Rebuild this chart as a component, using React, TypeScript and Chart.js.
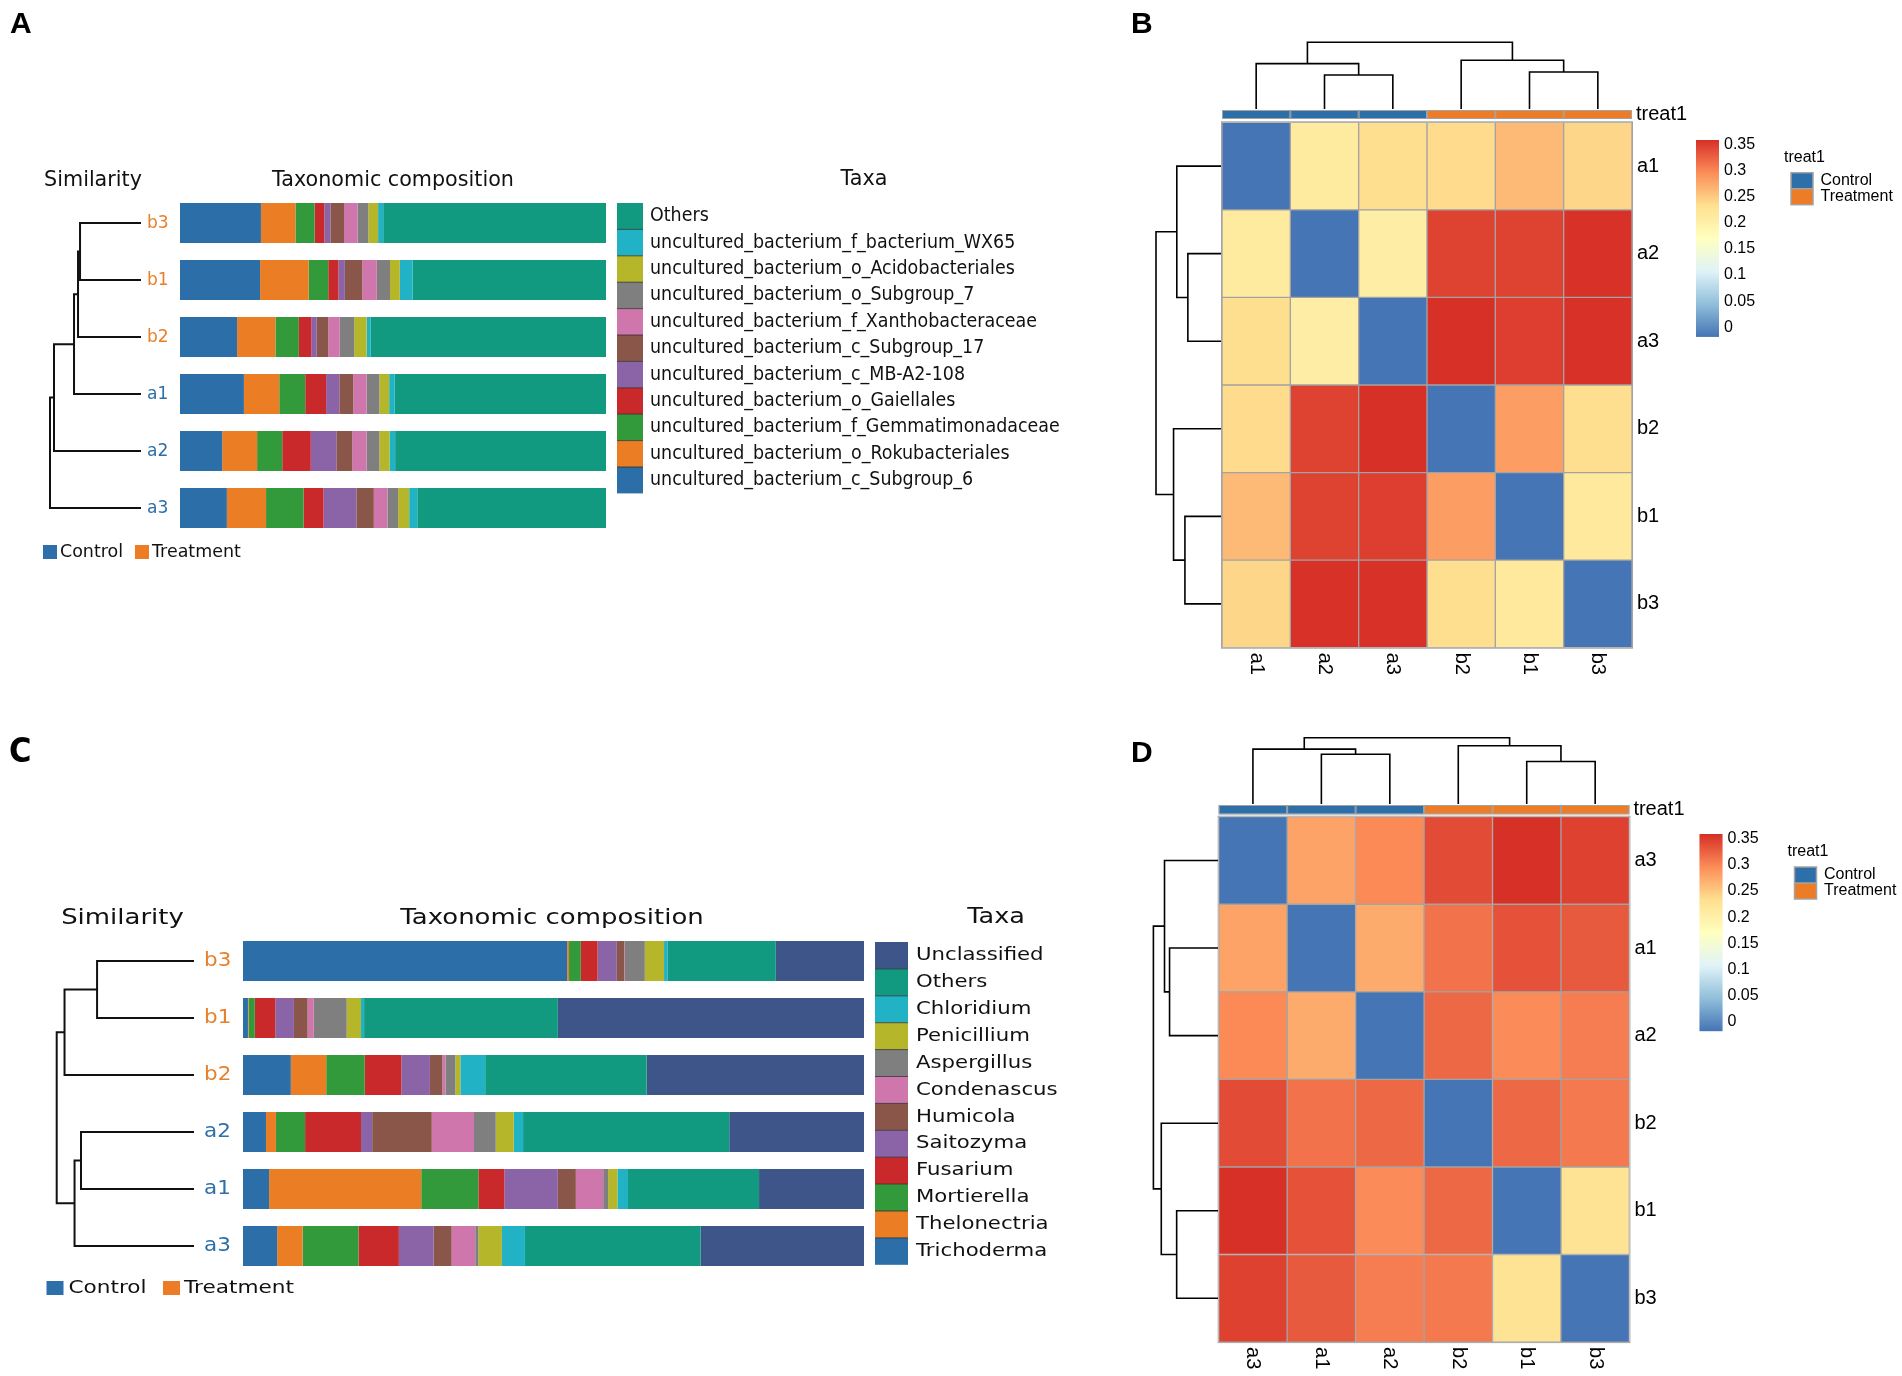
import React, { useEffect, useRef } from 'react';
import Chart from 'chart.js/auto';

const W = 1902;
const H = 1376;

// ---------------- Panel A (bacteria) data ----------------
const samplesA = ['b3', 'b1', 'b2', 'a1', 'a2', 'a3'];
const taxaA = [
  'uncultured_bacterium_c_Subgroup_6',
  'uncultured_bacterium_o_Rokubacteriales',
  'uncultured_bacterium_f_Gemmatimonadaceae',
  'uncultured_bacterium_o_Gaiellales',
  'uncultured_bacterium_c_MB-A2-108',
  'uncultured_bacterium_c_Subgroup_17',
  'uncultured_bacterium_f_Xanthobacteraceae',
  'uncultured_bacterium_o_Subgroup_7',
  'uncultured_bacterium_o_Acidobacteriales',
  'uncultured_bacterium_f_bacterium_WX65',
  'Others',
];
const subgroup6A = [19.0, 18.8, 13.4, 15.0, 9.9, 11.0];
const rokubacterialesA = [8.1, 11.4, 9.0, 8.3, 8.2, 9.2];
const gemmatimonadaceaeA = [4.5, 4.6, 5.5, 6.1, 5.9, 8.8];
const gaiellalesA = [2.3, 2.4, 2.9, 4.9, 6.7, 4.7];
const mbA2108A = [1.4, 1.5, 1.3, 3.1, 6.0, 7.7];
const subgroup17A = [3.2, 4.1, 2.7, 3.3, 3.7, 4.1];
const xanthobacteraceaeA = [3.2, 3.4, 2.7, 3.1, 3.4, 3.2];
const subgroup7A = [2.5, 3.1, 3.4, 3.0, 3.0, 2.5];
const acidobacterialesA = [2.3, 2.3, 2.9, 2.3, 2.4, 2.6];
const wx65A = [1.2, 3.0, 0.9, 1.3, 1.3, 1.9];
const othersA = [52.3, 45.4, 55.3, 49.6, 49.5, 44.3];
const seriesA = [subgroup6A, rokubacterialesA, gemmatimonadaceaeA, gaiellalesA, mbA2108A, subgroup17A,
  xanthobacteraceaeA, subgroup7A, acidobacterialesA, wx65A, othersA];
// hierarchical merges: [childA, childB, height]; >=0 leaf index, <0 cluster -(k+1)
const mergesA = [[0, 1, 0.67], [-1, 2, 0.692], [-2, 3, 0.736], [-3, 4, 0.956], [-4, 5, 1.0]];

// ---------------- Panel C (fungi) data ----------------
const samplesC = ['b3', 'b1', 'b2', 'a2', 'a1', 'a3'];
const taxaC = ['Trichoderma', 'Thelonectria', 'Mortierella', 'Fusarium', 'Saitozyma', 'Humicola',
  'Condenascus', 'Aspergillus', 'Penicillium', 'Chloridium', 'Others', 'Unclassified'];
const trichodermaC = [52.2, 0.8, 7.7, 3.7, 4.2, 5.5];
const thelonectriaC = [0.3, 0.1, 5.7, 1.6, 24.5, 4.1];
const mortierellaC = [1.9, 1.0, 6.2, 4.7, 9.2, 9.0];
const fusariumC = [2.7, 3.3, 5.9, 9.0, 4.2, 6.5];
const saitozymaC = [3.1, 3.0, 4.6, 1.8, 8.6, 5.6];
const humicolaC = [1.2, 2.2, 2.0, 9.6, 2.9, 2.9];
const condenascusC = [0.1, 1.0, 0.5, 6.8, 4.4, 3.8];
const aspergillusC = [3.2, 5.3, 1.6, 3.5, 0.8, 0.5];
const penicilliumC = [3.1, 2.3, 0.8, 2.9, 1.5, 3.8];
const chloridiumC = [0.6, 0.5, 4.0, 1.5, 1.7, 3.7];
const othersC = [17.4, 31.2, 26.0, 33.2, 21.1, 28.3];
const unclassifiedC = [14.2, 49.3, 35.0, 21.7, 16.9, 26.3];
const seriesC = [trichodermaC, thelonectriaC, mortierellaC, fusariumC, saitozymaC, humicolaC,
  condenascusC, aspergillusC, penicilliumC, chloridiumC, othersC, unclassifiedC];
const mergesC = [[0, 1, 0.706], [-1, 2, 0.943], [3, 4, 0.823], [-3, 5, 0.87], [-2, -4, 1.0]];

// ---------------- Panel B heatmap data ----------------
const orderB = ['a1', 'a2', 'a3', 'b2', 'b1', 'b3'];
const groupB = ['Control', 'Control', 'Control', 'Treatment', 'Treatment', 'Treatment'];
const distB = [
  [0, 0.218, 0.24, 0.242, 0.267, 0.246],
  [0.218, 0, 0.212, 0.346, 0.346, 0.357],
  [0.24, 0.212, 0, 0.358, 0.349, 0.357],
  [0.242, 0.346, 0.358, 0, 0.286, 0.24],
  [0.267, 0.346, 0.349, 0.286, 0, 0.222],
  [0.246, 0.357, 0.357, 0.24, 0.222, 0],
];
const mergesB = [[1, 2, 0.51], [0, -1, 0.68], [4, 5, 0.555], [3, -3, 0.73], [-2, -4, 1.0]];

// ---------------- Panel D heatmap data ----------------
const orderD = ['a3', 'a1', 'a2', 'b2', 'b1', 'b3'];
const groupD = ['Control', 'Control', 'Control', 'Treatment', 'Treatment', 'Treatment'];
const distD = [
  [0, 0.284, 0.302, 0.342, 0.36, 0.349],
  [0.284, 0, 0.278, 0.317, 0.338, 0.333],
  [0.302, 0.278, 0, 0.324, 0.301, 0.31],
  [0.342, 0.317, 0.324, 0, 0.324, 0.313],
  [0.36, 0.338, 0.301, 0.324, 0, 0.235],
  [0.349, 0.333, 0.31, 0.313, 0.235, 0],
];
const mergesD = [[1, 2, 0.75], [0, -1, 0.828], [4, 5, 0.64], [3, -3, 0.878], [-2, -4, 1.0]];

const legendTicks = [0, 0.05, 0.1, 0.15, 0.2, 0.25, 0.3, 0.35];
const groupNames = ['Control', 'Treatment'];

// ---------------- styles ----------------
const C_BLUE = '#2b6ea8';
const C_ORANGE = '#eb7d24';
const C_GREEN = '#339a3b';
const C_RED = '#c9292a';
const C_PURPLE = '#8b63a7';
const C_BROWN = '#895649';
const C_PINK = '#cf77ad';
const C_GREY = '#7f7f7f';
const C_OLIVE = '#b5b62a';
const C_CYAN = '#21b2c6';
const C_TEAL = '#129a80';
const C_NAVY = '#3e5589';
const colorsA = [C_BLUE, C_ORANGE, C_GREEN, C_RED, C_PURPLE, C_BROWN, C_PINK, C_GREY, C_OLIVE, C_CYAN, C_TEAL];
const colorsC = [C_BLUE, C_ORANGE, C_GREEN, C_RED, C_PURPLE, C_BROWN, C_PINK, C_GREY, C_OLIVE, C_CYAN, C_TEAL, C_NAVY];
const LBL_BLUE = '#2e6fa7';
const LBL_ORANGE = '#e8802a';
const GROUP_COLORS = { Control: '#2c6fa9', Treatment: '#ec7c26' };
const RAMP = ['#4575B4', '#91BFDB', '#E0F3F8', '#FFFFBF', '#FEE090', '#FC8D59', '#D73027'];
const GRID = '#a3a3a3';
const FD = '"DejaVu Sans", sans-serif';
const FA = '"Liberation Sans", Arial, sans-serif';

function hexToRgb(h) {
  const n = parseInt(h.slice(1), 16);
  return [(n >> 16) & 255, (n >> 8) & 255, n & 255];
}
function heatColor(v, vmax) {
  const t = Math.max(0, Math.min(1, v / vmax)) * (RAMP.length - 1);
  const i = Math.min(RAMP.length - 2, Math.floor(t));
  const f = t - i;
  const a = hexToRgb(RAMP[i]);
  const b = hexToRgb(RAMP[i + 1]);
  const c = a.map((x, k) => Math.round(x + (b[k] - x) * f));
  return `rgb(${c[0]},${c[1]},${c[2]})`;
}

function txt(ctx, s, x, y, font, color, align = 'left', sx = 1, baseline = 'middle') {
  ctx.save();
  ctx.font = font;
  ctx.fillStyle = color;
  ctx.textAlign = align;
  ctx.textBaseline = baseline;
  ctx.translate(x, y);
  ctx.scale(sx, 1);
  ctx.fillText(s, 0, 0);
  ctx.restore();
}

function drawDendro(ctx, merges, leafPos, base, span, orient, lw, color) {
  const pos = [];
  const hgt = [];
  const get = (id) => (id >= 0 ? { p: leafPos[id], h: base } : { p: pos[-id - 1], h: hgt[-id - 1] });
  ctx.save();
  ctx.strokeStyle = color;
  ctx.lineWidth = lw;
  ctx.lineJoin = 'miter';
  ctx.lineCap = 'butt';
  merges.forEach((m, k) => {
    const A = get(m[0]);
    const B = get(m[1]);
    const hk = base - m[2] * span;
    ctx.beginPath();
    if (orient === 'left') {
      ctx.moveTo(A.h, A.p); ctx.lineTo(hk, A.p); ctx.lineTo(hk, B.p); ctx.lineTo(B.h, B.p);
    } else {
      ctx.moveTo(A.p, A.h); ctx.lineTo(A.p, hk); ctx.lineTo(B.p, hk); ctx.lineTo(B.p, B.h);
    }
    ctx.stroke();
    pos[k] = (A.p + B.p) / 2;
    hgt[k] = hk;
  });
  ctx.restore();
}

// ---------------- stacked composition panels ----------------
const layoutA = {
  pad: { left: 180, right: W - 606, top: 194.5, bottom: H - 536.5 },
  draw(chart) {
    const ctx = chart.ctx;
    const ys = samplesA.map((_, i) => chart.scales.y.getPixelForValue(i));
    txt(ctx, 'A', 10, 33, `bold 30px ${FA}`, '#000', 'left', 1, 'alphabetic');
    txt(ctx, 'Similarity', 93, 180, `22px ${FD}`, '#111', 'center', 0.94);
    txt(ctx, 'Taxonomic composition', 393, 180, `22px ${FD}`, '#111', 'center', 0.94);
    txt(ctx, 'Taxa', 864, 179, `22px ${FD}`, '#111', 'center', 0.94);
    samplesA.forEach((s, i) => txt(ctx, s, 147, ys[i], `18px ${FD}`, s[0] === 'a' ? LBL_BLUE : LBL_ORANGE, 'left', 0.95));
    drawDendro(ctx, mergesA, ys, 141, 91, 'left', 2, '#111');
    const n = taxaA.length;
    const rh = 26.4;
    for (let k = 0; k < n; k++) {
      const idx = n - 1 - k;
      const y0 = 203 + k * rh;
      ctx.fillStyle = colorsA[idx];
      ctx.fillRect(617, y0, 26, rh);
      if (k > 0) {
        ctx.fillStyle = 'rgba(40,40,40,0.75)';
        ctx.fillRect(617, y0 - 0.5, 26, 1);
      }
      txt(ctx, taxaA[idx], 650, y0 + rh / 2, `19px ${FD}`, '#111', 'left', 0.92);
    }
    ctx.fillStyle = GROUP_COLORS.Control;
    ctx.fillRect(43, 545, 14, 14);
    txt(ctx, 'Control', 60, 552, `18px ${FD}`, '#111', 'left', 0.97);
    ctx.fillStyle = GROUP_COLORS.Treatment;
    ctx.fillRect(135, 545, 14, 14);
    txt(ctx, 'Treatment', 152, 552, `18px ${FD}`, '#111', 'left', 0.97);
  },
};

const layoutC = {
  pad: { left: 243, right: W - 864, top: 932.5, bottom: H - 1274.5 },
  draw(chart) {
    const ctx = chart.ctx;
    const ys = samplesC.map((_, i) => chart.scales.y.getPixelForValue(i));
    txt(ctx, 'C', 9, 762, `bold 34px "DejaVu Sans Condensed", ${FD}`, '#000', 'left', 1, 'alphabetic');
    txt(ctx, 'Similarity', 122.5, 918, `22px ${FD}`, '#111', 'center', 1.18);
    txt(ctx, 'Taxonomic composition', 552, 918, `22px ${FD}`, '#111', 'center', 1.18);
    txt(ctx, 'Taxa', 996, 917, `22px ${FD}`, '#111', 'center', 1.16);
    samplesC.forEach((s, i) => txt(ctx, s, 204, ys[i], `19px ${FD}`, s[0] === 'a' ? LBL_BLUE : LBL_ORANGE, 'left', 1.13));
    drawDendro(ctx, mergesC, ys, 194, 137.3, 'left', 2, '#111');
    const n = taxaC.length;
    const rh = 26.9;
    for (let k = 0; k < n; k++) {
      const idx = n - 1 - k;
      const y0 = 942 + k * rh;
      ctx.fillStyle = colorsC[idx];
      ctx.fillRect(875, y0, 33, rh);
      if (k > 0) {
        ctx.fillStyle = 'rgba(40,40,40,0.75)';
        ctx.fillRect(875, y0 - 0.5, 33, 1);
      }
      txt(ctx, taxaC[idx], 916, y0 + rh / 2, `18px ${FD}`, '#111', 'left', 1.18);
    }
    ctx.fillStyle = GROUP_COLORS.Control;
    ctx.fillRect(46.5, 1281, 17, 14);
    txt(ctx, 'Control', 68.5, 1288, `18px ${FD}`, '#111', 'left', 1.2);
    ctx.fillStyle = GROUP_COLORS.Treatment;
    ctx.fillRect(163, 1281, 17, 14);
    txt(ctx, 'Treatment', 184, 1288, `18px ${FD}`, '#111', 'left', 1.2);
  },
};

function makeStack(canvas, samples, taxa, series, colors, layout) {
  return new Chart(canvas, {
    type: 'bar',
    data: {
      labels: samples,
      datasets: taxa.map((t, k) => ({
        label: t,
        data: series[k],
        backgroundColor: colors[k],
        borderWidth: 0,
        barPercentage: 0.7,
        categoryPercentage: 1,
        stack: 's',
      })),
    },
    options: {
      indexAxis: 'y',
      responsive: false,
      animation: false,
      devicePixelRatio: 1,
      events: [],
      layout: { padding: layout.pad },
      scales: {
        x: { display: false, stacked: true, min: 0, max: 100 },
        y: { display: false, stacked: true },
      },
      plugins: { legend: { display: false }, tooltip: { enabled: false } },
    },
    plugins: [{ id: 'deco', afterDraw: (chart) => layout.draw(chart) }],
  });
}

// ---------------- heatmap panels ----------------
const layoutB = {
  title: 'B', titleX: 1131, titleY: 33,
  pad: { left: 1222, right: W - 1632, top: 122.3, bottom: H - 647.7 },
  topBase: 109, topSpan: 66.7, leftBase: 1221, leftSpan: 65,
  annoTop: 110, annoBottom: 119,
  bar: { x: 1696, w: 23, top: 140, bottom: 336.7, zeroY: 327.3, k: 522.9, labelX: 1724 },
  gl: { titleX: 1784, titleY: 157.3, swX: 1791, swW: 22, swY: 172.7, swH: 16, textX: 1820.5 },
};
const layoutD = {
  title: 'D', titleX: 1131, titleY: 762,
  pad: { left: 1218.7, right: W - 1629.4, top: 816.7, bottom: H - 1342.1 },
  topBase: 804, topSpan: 66.3, leftBase: 1218, leftSpan: 64.6,
  annoTop: 805, annoBottom: 814.3,
  bar: { x: 1699.5, w: 23, top: 834.4, bottom: 1031, zeroY: 1021.7, k: 522.9, labelX: 1727.5 },
  gl: { titleX: 1787.5, titleY: 851.7, swX: 1794.5, swW: 22, swY: 867, swH: 16, textX: 1824 },
};

function makeHeat(canvas, order, groups, mat, merges, L) {
  const vmax = Math.max(...mat.map((r) => Math.max(...r)));
  return new Chart(canvas, {
    type: 'bar',
    data: {
      labels: order,
      datasets: order.map((c, j) => ({
        label: c,
        data: order.map(() => [j, j + 1]),
        backgroundColor: order.map((_, i) => heatColor(mat[i][j], vmax)),
        borderColor: GRID,
        borderWidth: 1,
        borderSkipped: false,
        barPercentage: 1,
        categoryPercentage: 1,
        grouped: false,
      })),
    },
    options: {
      indexAxis: 'y',
      responsive: false,
      animation: false,
      devicePixelRatio: 1,
      events: [],
      layout: { padding: L.pad },
      scales: {
        x: { type: 'linear', display: false, min: 0, max: order.length },
        y: { type: 'category', display: false },
      },
      plugins: { legend: { display: false }, tooltip: { enabled: false } },
    },
    plugins: [{
      id: 'heatdeco',
      afterDraw: (chart) => {
        const ctx = chart.ctx;
        const xs = chart.scales.x;
        const ysc = chart.scales.y;
        const ca = chart.chartArea;
        const cx = order.map((_, j) => xs.getPixelForValue(j + 0.5));
        const cy = order.map((_, i) => ysc.getPixelForValue(i));
        // outer border
        ctx.save();
        ctx.strokeStyle = GRID;
        ctx.lineWidth = 1;
        ctx.strokeRect(ca.left - 0.5, ca.top - 0.5, ca.right - ca.left + 1, ca.bottom - ca.top + 1);
        ctx.restore();
        txt(ctx, L.title, L.titleX, L.titleY, `bold 30px ${FA}`, '#000', 'left', 1, 'alphabetic');
        // annotation bar
        order.forEach((_, j) => {
          const x0 = xs.getPixelForValue(j);
          const x1 = xs.getPixelForValue(j + 1);
          ctx.fillStyle = GROUP_COLORS[groups[j]];
          ctx.fillRect(x0, L.annoTop, x1 - x0, L.annoBottom - L.annoTop);
          ctx.strokeStyle = GRID;
          ctx.lineWidth = 1;
          ctx.strokeRect(x0 + 0.5, L.annoTop + 0.5, x1 - x0 - 1, L.annoBottom - L.annoTop - 1);
        });
        txt(ctx, 'treat1', ca.right + 4, (L.annoTop + L.annoBottom) / 2, `20px ${FA}`, '#000', 'left');
        // dendrograms
        drawDendro(ctx, merges, cx, L.topBase, L.topSpan, 'top', 1.6, '#000');
        drawDendro(ctx, merges, cy, L.leftBase, L.leftSpan, 'left', 1.6, '#000');
        // row labels
        order.forEach((s, i) => txt(ctx, s, ca.right + 5, cy[i], `20px ${FA}`, '#000', 'left'));
        // column labels rotated 90deg clockwise
        order.forEach((s, j) => {
          ctx.save();
          ctx.font = `20px ${FA}`;
          ctx.fillStyle = '#000';
          ctx.textAlign = 'left';
          ctx.textBaseline = 'middle';
          ctx.translate(cx[j], ca.bottom + 5);
          ctx.rotate(Math.PI / 2);
          ctx.fillText(s, 0, 0);
          ctx.restore();
        });
        // colour legend
        const b = L.bar;
        for (let py = Math.floor(b.top); py < b.bottom; py++) {
          const f = (b.bottom - (py + 0.5)) / (b.bottom - b.top);
          ctx.fillStyle = heatColor(f * vmax, vmax);
          ctx.fillRect(b.x, py, b.w, Math.min(1, b.bottom - py) + 0.2);
        }
        legendTicks.forEach((v) => txt(ctx, String(v), b.labelX, b.zeroY - v * b.k, `16px ${FA}`, '#000', 'left'));
        // group legend
        const g = L.gl;
        txt(ctx, 'treat1', g.titleX, g.titleY, `16px ${FA}`, '#000', 'left');
        groupNames.forEach((name, k) => {
          const y0 = g.swY + k * g.swH;
          ctx.fillStyle = GROUP_COLORS[name];
          ctx.fillRect(g.swX, y0, g.swW, g.swH);
          txt(ctx, name, g.textX, y0 + g.swH / 2, `16px ${FA}`, '#000', 'left');
        });
        ctx.save();
        ctx.strokeStyle = GRID;
        ctx.lineWidth = 1.5;
        ctx.strokeRect(g.swX, g.swY, g.swW, g.swH * groupNames.length);
        ctx.beginPath();
        ctx.moveTo(g.swX, g.swY + g.swH);
        ctx.lineTo(g.swX + g.swW, g.swY + g.swH);
        ctx.stroke();
        ctx.restore();
      },
    }],
  });
}

export default function App() {
  const rA = useRef(null);
  const rB = useRef(null);
  const rC = useRef(null);
  const rD = useRef(null);
  useEffect(() => {
    const charts = [
      makeStack(rA.current, samplesA, taxaA, seriesA, colorsA, layoutA),
      makeHeat(rB.current, orderB, groupB, distB, mergesB, layoutB),
      makeStack(rC.current, samplesC, taxaC, seriesC, colorsC, layoutC),
      makeHeat(rD.current, orderD, groupD, distD, mergesD, layoutD),
    ];
    return () => charts.forEach((c) => c.destroy());
  }, []);
  const cs = { position: 'absolute', left: 0, top: 0, width: W, height: H };
  return (
    <div style={{ position: 'absolute', left: 0, top: 0, width: W, height: H, background: '#fff', overflow: 'hidden' }}>
      <canvas ref={rA} width={W} height={H} style={cs} />
      <canvas ref={rB} width={W} height={H} style={cs} />
      <canvas ref={rC} width={W} height={H} style={cs} />
      <canvas ref={rD} width={W} height={H} style={cs} />
    </div>
  );
}
